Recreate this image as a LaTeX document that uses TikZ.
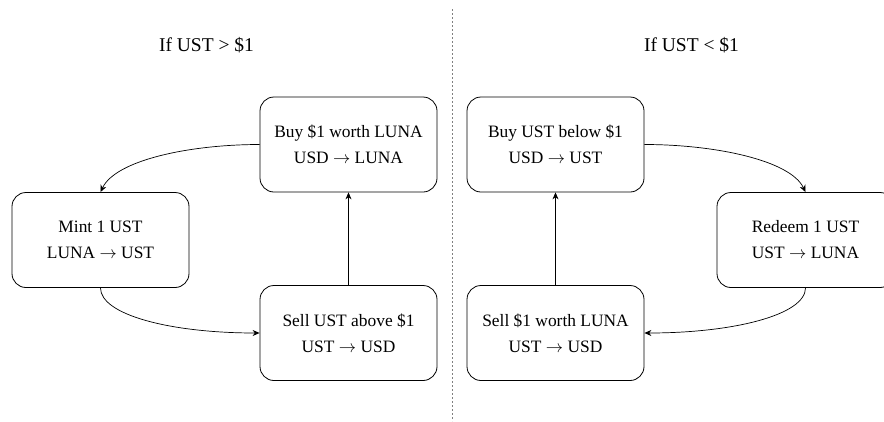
\documentclass[tikz,border=0pt]{standalone}
\usepackage{fontspec}
\setmainfont{Liberation Serif}
\usetikzlibrary{arrows.meta}
\newcommand{\tto}{$\rightarrow$}
\begin{document}
\begin{tikzpicture}[x=1pt,y=-1pt,
  stepbox/.style={draw, line width=0.8pt, rounded corners=14pt, minimum width=177pt, minimum height=95pt, align=center, font=\fontsize{17.4}{26}\selectfont, inner sep=0pt},
  title/.style={font=\fontsize{19.5}{22}\selectfont},
  arr/.style={-{Stealth[length=7pt,width=6pt]}, line width=0.7pt}]
\useasboundingbox (0,0) rectangle (884,421);
\node[title] (tl) at (206.5,45) {If UST > \$1};
\node[title] (tr) at (691.5,45) {If UST < \$1};
\coordinate (dtop) at (452,9);
\coordinate (dbot) at (452,421);
\draw[gray, line width=0.6pt, dash pattern=on 2pt off 2pt] (dtop) -- (dbot);
\node[stepbox] (buyL) at (348.5,144.5) {Buy \$1 worth LUNA\\USD \tto{} LUNA};
\node[stepbox] (mint) at (100.5,240) {Mint 1 UST\\LUNA \tto{} UST};
\node[stepbox] (sellL) at (348.5,333) {Sell UST above \$1\\UST \tto{} USD};
\node[stepbox] (buyR) at (555.5,144.5) {Buy UST below \$1\\USD \tto{} UST};
\node[stepbox] (redeem) at (805.5,240) {Redeem 1 UST\\UST \tto{} LUNA};
\node[stepbox] (sellR) at (555.5,333) {Sell \$1 worth LUNA\\UST \tto{} USD};
\draw[arr] (buyL.west) .. controls +(-70,0) and +(15,-32) .. (mint.north);
\draw[arr] (mint.south) .. controls +(0,27) and +(-89,0) .. (sellL.west);
\draw[arr] (sellL.north) -- (buyL.south);
\draw[arr] (buyR.east) .. controls +(70,0) and +(-15,-32) .. (redeem.north);
\draw[arr] (redeem.south) .. controls +(0,27) and +(89,0) .. (sellR.east);
\draw[arr] (sellR.north) -- (buyR.south);
\end{tikzpicture}
\end{document}
